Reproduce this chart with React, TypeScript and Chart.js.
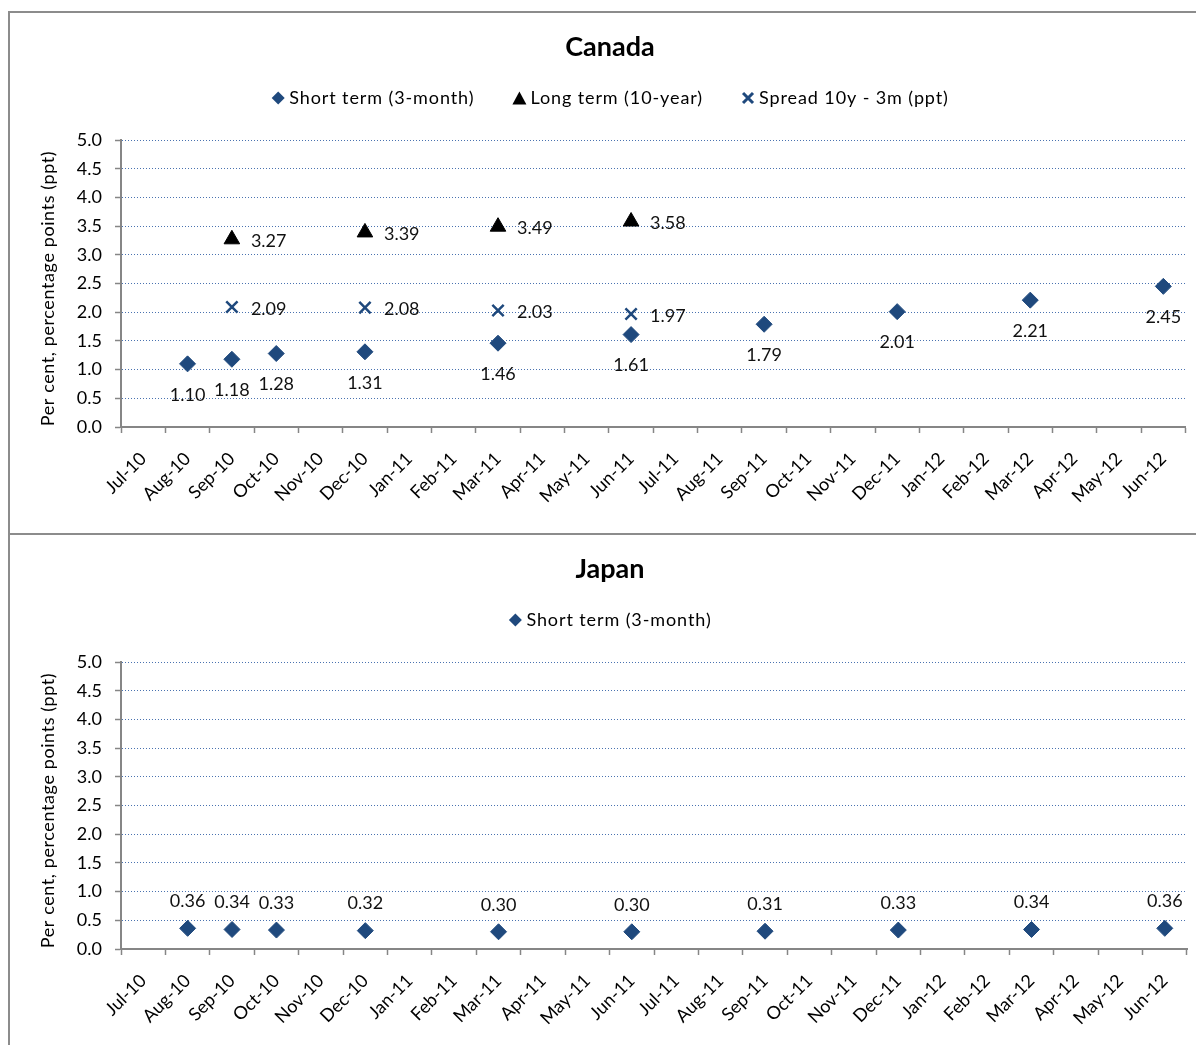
import React, { useEffect, useRef } from 'react';
import { Chart, registerables } from 'chart.js';

Chart.register(...registerables);

// Month categories on the x axis
const months = [
  'Jul-10', 'Aug-10', 'Sep-10', 'Oct-10', 'Nov-10', 'Dec-10',
  'Jan-11', 'Feb-11', 'Mar-11', 'Apr-11', 'May-11', 'Jun-11',
  'Jul-11', 'Aug-11', 'Sep-11', 'Oct-11', 'Nov-11', 'Dec-11',
  'Jan-12', 'Feb-12', 'Mar-12', 'Apr-12', 'May-12', 'Jun-12',
];

// Short-term (3-month) observations
const shortTermMonths = ['Aug-10', 'Sep-10', 'Oct-10', 'Dec-10', 'Mar-11', 'Jun-11', 'Sep-11', 'Dec-11', 'Mar-12', 'Jun-12'];
const canadaShortTerm = [1.10, 1.18, 1.28, 1.31, 1.46, 1.61, 1.79, 2.01, 2.21, 2.45];
const japanShortTerm = [0.36, 0.34, 0.33, 0.32, 0.30, 0.30, 0.31, 0.33, 0.34, 0.36];

// Long-term (10-year) yields and the 10y - 3m spread
const longTermMonths = ['Sep-10', 'Dec-10', 'Mar-11', 'Jun-11'];
const canadaLongTerm = [3.27, 3.39, 3.49, 3.58];
const canadaSpread = [2.09, 2.08, 2.03, 1.97];

// Y axis range
const yMin = 0;
const yMax = 5;
const yStep = 0.5;
const yAxisTitle = 'Per cent, percentage points (ppt)';

const FONT = 'Lato, "Open Sans", "DejaVu Sans", sans-serif';
const NAVY = '#1F497D';
const AXIS_GREY = '#868686';
const GRID_BLUE = '#4A72B0';

const pairs = (xs: string[], ys: number[]) => xs.map((x, i) => ({ x, y: ys[i] }));

type LegendItem = { text: string; marker: 'diamond' | 'triangle' | 'cross'; color: string };

function drawMarker(ctx: CanvasRenderingContext2D, marker: string, x: number, y: number, color: string) {
  ctx.save();
  ctx.fillStyle = color;
  ctx.strokeStyle = color;
  ctx.beginPath();
  if (marker === 'diamond') {
    const r = 6.5;
    ctx.moveTo(x, y - r);
    ctx.lineTo(x + r, y);
    ctx.lineTo(x, y + r);
    ctx.lineTo(x - r, y);
    ctx.closePath();
    ctx.fill();
  } else if (marker === 'triangle') {
    const w = 14;
    const h = 13;
    ctx.moveTo(x, y - h / 2);
    ctx.lineTo(x + w / 2, y + h / 2);
    ctx.lineTo(x - w / 2, y + h / 2);
    ctx.closePath();
    ctx.fill();
  } else {
    const r = 5;
    ctx.lineWidth = 3;
    ctx.moveTo(x - r, y - r);
    ctx.lineTo(x + r, y + r);
    ctx.moveTo(x + r, y - r);
    ctx.lineTo(x - r, y + r);
    ctx.stroke();
  }
  ctx.restore();
}

// Title, legend and y-axis caption drawn around the plot area
const headerPlugin = {
  id: 'header',
  afterDraw(chart: any, _args: any, opts: any) {
    const ctx: any = chart.ctx;
    const cx = opts.centerX;
    ctx.save();
    ctx.fillStyle = '#000';
    ctx.textBaseline = 'middle';
    ctx.textAlign = 'center';
    ctx.font = `bold 27px ${FONT}`;
    ctx.fillText(opts.title, cx, opts.titleY);

    ctx.font = `18px ${FONT}`;
    ctx.letterSpacing = '0.9px';
    ctx.textAlign = 'left';
    const items: LegendItem[] = opts.items;
    const markerW = 14;
    const markerGap = 4;
    const itemGap = 38;
    const widths = items.map((it) => markerW + markerGap + ctx.measureText(it.text).width);
    const total = widths.reduce((a, b) => a + b, 0) + itemGap * (items.length - 1);
    let x = cx - total / 2;
    items.forEach((it, i) => {
      drawMarker(ctx, it.marker, x + markerW / 2, opts.legendY, it.color);
      ctx.fillStyle = '#000';
      ctx.fillText(it.text, x + markerW + markerGap, opts.legendY);
      x += widths[i] + itemGap;
    });

    // Rotated y-axis caption, centred on the plot area
    const area = chart.chartArea;
    ctx.letterSpacing = '0.6px';
    ctx.textAlign = 'center';
    ctx.translate(opts.yTitleX, (area.top + area.bottom) / 2 + 5);
    ctx.rotate(-Math.PI / 2);
    ctx.fillText(opts.yTitle, 0, 0);
    ctx.restore();
  },
};

// Value labels next to each marker
const valueLabelPlugin = {
  id: 'valueLabels',
  afterDatasetsDraw(chart: any) {
    const ctx: CanvasRenderingContext2D = chart.ctx;
    ctx.save();
    ctx.font = `18px ${FONT}`;
    ctx.fillStyle = '#111';
    ctx.textBaseline = 'middle';
    chart.data.datasets.forEach((ds: any, i: number) => {
      const meta = chart.getDatasetMeta(i);
      meta.data.forEach((pt: any, j: number) => {
        const v = ds.data[j]?.y;
        if (v == null) return;
        const text = v.toFixed(2);
        let x = pt.x;
        let y = pt.y;
        if (ds.labelPos === 'below') {
          ctx.textAlign = 'center';
          y += 31;
        } else if (ds.labelPos === 'above') {
          ctx.textAlign = 'center';
          y -= 27;
        } else {
          ctx.textAlign = 'left';
          x += 19;
          y += 2;
        }
        ctx.fillText(text, x, y);
      });
    });
    ctx.restore();
  },
};

function makeConfig(title: string, datasets: any[], items: LegendItem[]): any {
  return {
    type: 'line',
    data: { labels: months, datasets },
    plugins: [headerPlugin, valueLabelPlugin],
    options: {
      animation: false,
      responsive: false,
      devicePixelRatio: 1,
      layout: { padding: { top: 128, right: 9, bottom: 0, left: 0 } },
      plugins: {
        legend: { display: false },
        title: { display: false },
        tooltip: { enabled: false },
        header: { title, items, centerX: 610, titleY: 35, legendY: 86, yTitle: yAxisTitle, yTitleX: 48 },
      },
      scales: {
        x: {
          type: 'category',
          labels: months,
          offset: true,
          grid: {
            display: true,
            drawOnChartArea: false,
            offset: true,
            tickLength: 6,
            tickColor: AXIS_GREY,
            tickWidth: 1.5,
          },
          border: { display: true, color: AXIS_GREY, width: 2 },
          ticks: {
            autoSkip: false,
            maxRotation: 45,
            minRotation: 45,
            padding: 15,
            color: '#000',
            font: { family: FONT, size: 18 },
          },
          afterFit: (scale: any) => {
            scale.height = 107;
          },
        },
        y: {
          min: yMin,
          max: yMax,
          ticks: {
            stepSize: yStep,
            padding: 13,
            color: '#000',
            font: { family: FONT, size: 18 },
            callback: (v: any) => Number(v).toFixed(1),
          },
          grid: {
            color: (c: any) => (c.tick && c.tick.value === 0 ? 'rgba(0,0,0,0)' : GRID_BLUE),
            lineWidth: 1,
            tickLength: 6,
            tickColor: AXIS_GREY,
            tickWidth: 1.5,
            tickBorderDash: [],
          },
          border: { display: true, color: AXIS_GREY, width: 2, dash: [1, 2] },
          afterFit: (scale: any) => {
            scale.width = 121;
          },
        },
      },
    },
  };
}

const shortStyle = {
  showLine: false,
  pointStyle: 'rectRot',
  pointRadius: 8,
  pointBackgroundColor: NAVY,
  pointBorderColor: NAVY,
  pointBorderWidth: 1,
};

function ChartPanel({ top, config }: { top: number; config: any }) {
  const ref = useRef<HTMLCanvasElement | null>(null);
  useEffect(() => {
    if (!ref.current) return;
    const chart = new Chart(ref.current, config);
    return () => chart.destroy();
  }, [config]);
  return (
    <canvas
      ref={ref}
      width={1196}
      height={522}
      style={{ position: 'absolute', left: 0, top, width: 1196, height: 522 }}
    />
  );
}

const canadaConfig = makeConfig(
  'Canada',
  [
    { label: 'Short term (3-month)', data: pairs(shortTermMonths, canadaShortTerm), labelPos: 'below', ...shortStyle },
    {
      label: 'Long term (10-year)',
      data: pairs(longTermMonths, canadaLongTerm),
      labelPos: 'right',
      showLine: false,
      pointStyle: 'triangle',
      pointRadius: 9,
      pointBackgroundColor: '#000',
      pointBorderColor: '#000',
      pointBorderWidth: 1,
    },
    {
      label: 'Spread 10y - 3m (ppt)',
      data: pairs(longTermMonths, canadaSpread),
      labelPos: 'right',
      showLine: false,
      pointStyle: 'crossRot',
      pointRadius: 8,
      pointBackgroundColor: NAVY,
      pointBorderColor: NAVY,
      pointBorderWidth: 2.5,
    },
  ],
  [
    { text: 'Short term (3-month)', marker: 'diamond', color: NAVY },
    { text: 'Long term (10-year)', marker: 'triangle', color: '#000' },
    { text: 'Spread 10y - 3m (ppt)', marker: 'cross', color: NAVY },
  ],
);

const japanConfig = makeConfig(
  'Japan',
  [{ label: 'Short term (3-month)', data: pairs(shortTermMonths, japanShortTerm), labelPos: 'above', ...shortStyle }],
  [{ text: 'Short term (3-month)', marker: 'diamond', color: NAVY }],
);

export default function App() {
  return (
    <div style={{ position: 'absolute', left: 0, top: 0, width: 1196, height: 1045, overflow: 'hidden', background: '#fff' }}>
      <div style={{ position: 'absolute', left: 8, top: 11, width: 1220, height: 524, border: '2px solid #8c8c8c', boxSizing: 'border-box' }} />
      <div style={{ position: 'absolute', left: 8, top: 533, width: 1220, height: 600, border: '2px solid #8c8c8c', boxSizing: 'border-box' }} />
      <ChartPanel top={12} config={canadaConfig} />
      <ChartPanel top={534} config={japanConfig} />
    </div>
  );
}
